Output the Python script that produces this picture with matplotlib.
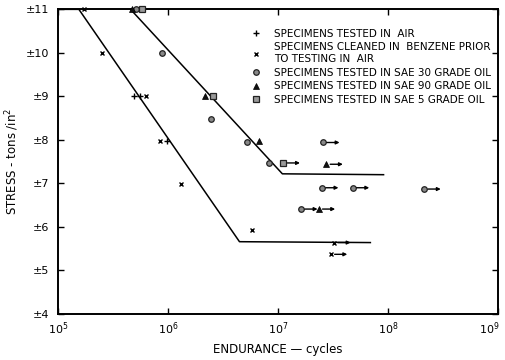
import matplotlib
matplotlib.use("Agg")
import matplotlib.pyplot as plt
import matplotlib.transforms as mtrans
import numpy as np

# fitted S-N lines: log10(cycles), stress (tons/in^2)
line_air_log = [5.0, 5.19, 6.65, 7.84]
line_air_s = [11.0, 11.0, 5.66, 5.64]
line_oil_log = [5.66, 7.04, 7.96]
line_oil_s = [11.0, 7.22, 7.20]

# test points: log10(cycles), stress, runout (unbroken -> arrow)
air_log = [5.69, 5.75, 5.99]
air_s = [9.0, 9.0, 7.98]
air_run = [False, False, False]

benz_log = [5.24, 5.40, 5.80, 5.93, 6.12, 6.76, 7.51, 7.48]
benz_s = [11.0, 10.0, 9.0, 7.98, 6.98, 5.93, 5.64, 5.37]
benz_run = [False, False, False, False, False, False, True, True]

sae30_log = [5.71, 5.95, 6.39, 6.72, 6.92, 7.41, 7.40, 7.68, 8.33, 7.21]
sae30_s = [11.0, 10.0, 8.47, 7.96, 7.47, 7.94, 6.90, 6.90, 6.87, 6.41]
sae30_run = [False, False, False, False, False, True, True, True, True, True]

sae90_log = [5.67, 6.34, 6.83, 7.44, 7.37]
sae90_s = [11.0, 9.0, 7.97, 7.44, 6.41]
sae90_run = [False, False, False, True, True]

sae5_log = [5.76, 6.41, 7.05]
sae5_s = [11.0, 9.0, 7.47]
sae5_run = [False, False, True]

legend_labels = [
    "SPECIMENS TESTED IN  AIR",
    "SPECIMENS CLEANED IN  BENZENE PRIOR\nTO TESTING IN  AIR",
    "SPECIMENS TESTED IN SAE 30 GRADE OIL",
    "SPECIMENS TESTED IN SAE 90 GRADE OIL",
    "SPECIMENS TESTED IN SAE 5 GRADE OIL",
]

xtick_exp = [5, 6, 7, 8, 9]
ytick_vals = [4, 5, 6, 7, 8, 9, 10, 11]

plt.rcParams['font.family'] = ['DejaVu Sans']
fig = plt.figure(figsize=(5.06, 3.60), dpi=100)
ax = fig.add_axes([0.1146, 0.128, 0.8695, 0.846])

ax.plot(10 ** np.array(line_air_log), line_air_s, color="k", lw=1.1)
ax.plot(10 ** np.array(line_oil_log), line_oil_s, color="k", lw=1.1)

series = [
    (air_log, air_s, air_run, dict(marker="+", ms=5, mew=1.0, color="k")),
    (benz_log, benz_s, benz_run, dict(marker="x", ms=3.5, mew=1.0, color="k")),
    (sae30_log, sae30_s, sae30_run, dict(marker="o", ms=4, mew=0.9, mfc="#888888", mec="#222222")),
    (sae90_log, sae90_s, sae90_run, dict(marker="^", ms=4.5, mew=0.5, mfc="#111111", mec="k")),
    (sae5_log, sae5_s, sae5_run, dict(marker="s", ms=4, mew=0.9, mfc="#999999", mec="#222222")),
]

handles = []
for lg, s, run, style in series:
    x = 10 ** np.array(lg)
    h, = ax.plot(x, s, ls="none", clip_on=False, zorder=3, **style)
    handles.append(h)
    for xi, si, r in zip(x, s, run):
        if r:
            ax.annotate("", xy=(xi * 10 ** 0.15, si), xytext=(xi * 10 ** 0.035, si),
                        arrowprops=dict(arrowstyle="-|>", lw=1.0, color="k",
                                        mutation_scale=5, shrinkA=0, shrinkB=0))

ax.set_xscale("log")
ax.set_xlim(1e5, 1e9)
ax.set_ylim(4, 11)
ax.set_xticks([10.0 ** e for e in xtick_exp])
ax.set_xticklabels(["$10^{%d}$" % e for e in xtick_exp])
ax.xaxis.set_minor_locator(matplotlib.ticker.NullLocator())
ax.set_yticks(ytick_vals)
ax.set_yticklabels(["\u00b1%d" % v for v in ytick_vals])
ax.tick_params(direction="in", top=True, right=True, length=4, width=1.0,
               labelsize=8)
ax.tick_params(axis="x", pad=5)
ax.tick_params(axis="y", pad=6)
for sp in ax.spines.values():
    sp.set_linewidth(1.4)

# keep the last decade label inside the figure
last = ax.get_xticklabels()[-1]
last.set_transform(last.get_transform() + mtrans.ScaledTranslation(-6 / 72, 0, fig.dpi_scale_trans))

ax.set_xlabel("ENDURANCE \u2014 cycles", fontsize=8.5, labelpad=4)
ax.set_ylabel("STRESS - tons /in$^2$", fontsize=8.5, labelpad=4)

leg = ax.legend(handles, legend_labels, loc="upper right", bbox_to_anchor=(1.0, 0.96),
                frameon=False, fontsize=7.5, handlelength=1.0, handletextpad=1.2,
                labelspacing=0.35, borderaxespad=0.3)

fig.savefig("out.png", dpi=100)
